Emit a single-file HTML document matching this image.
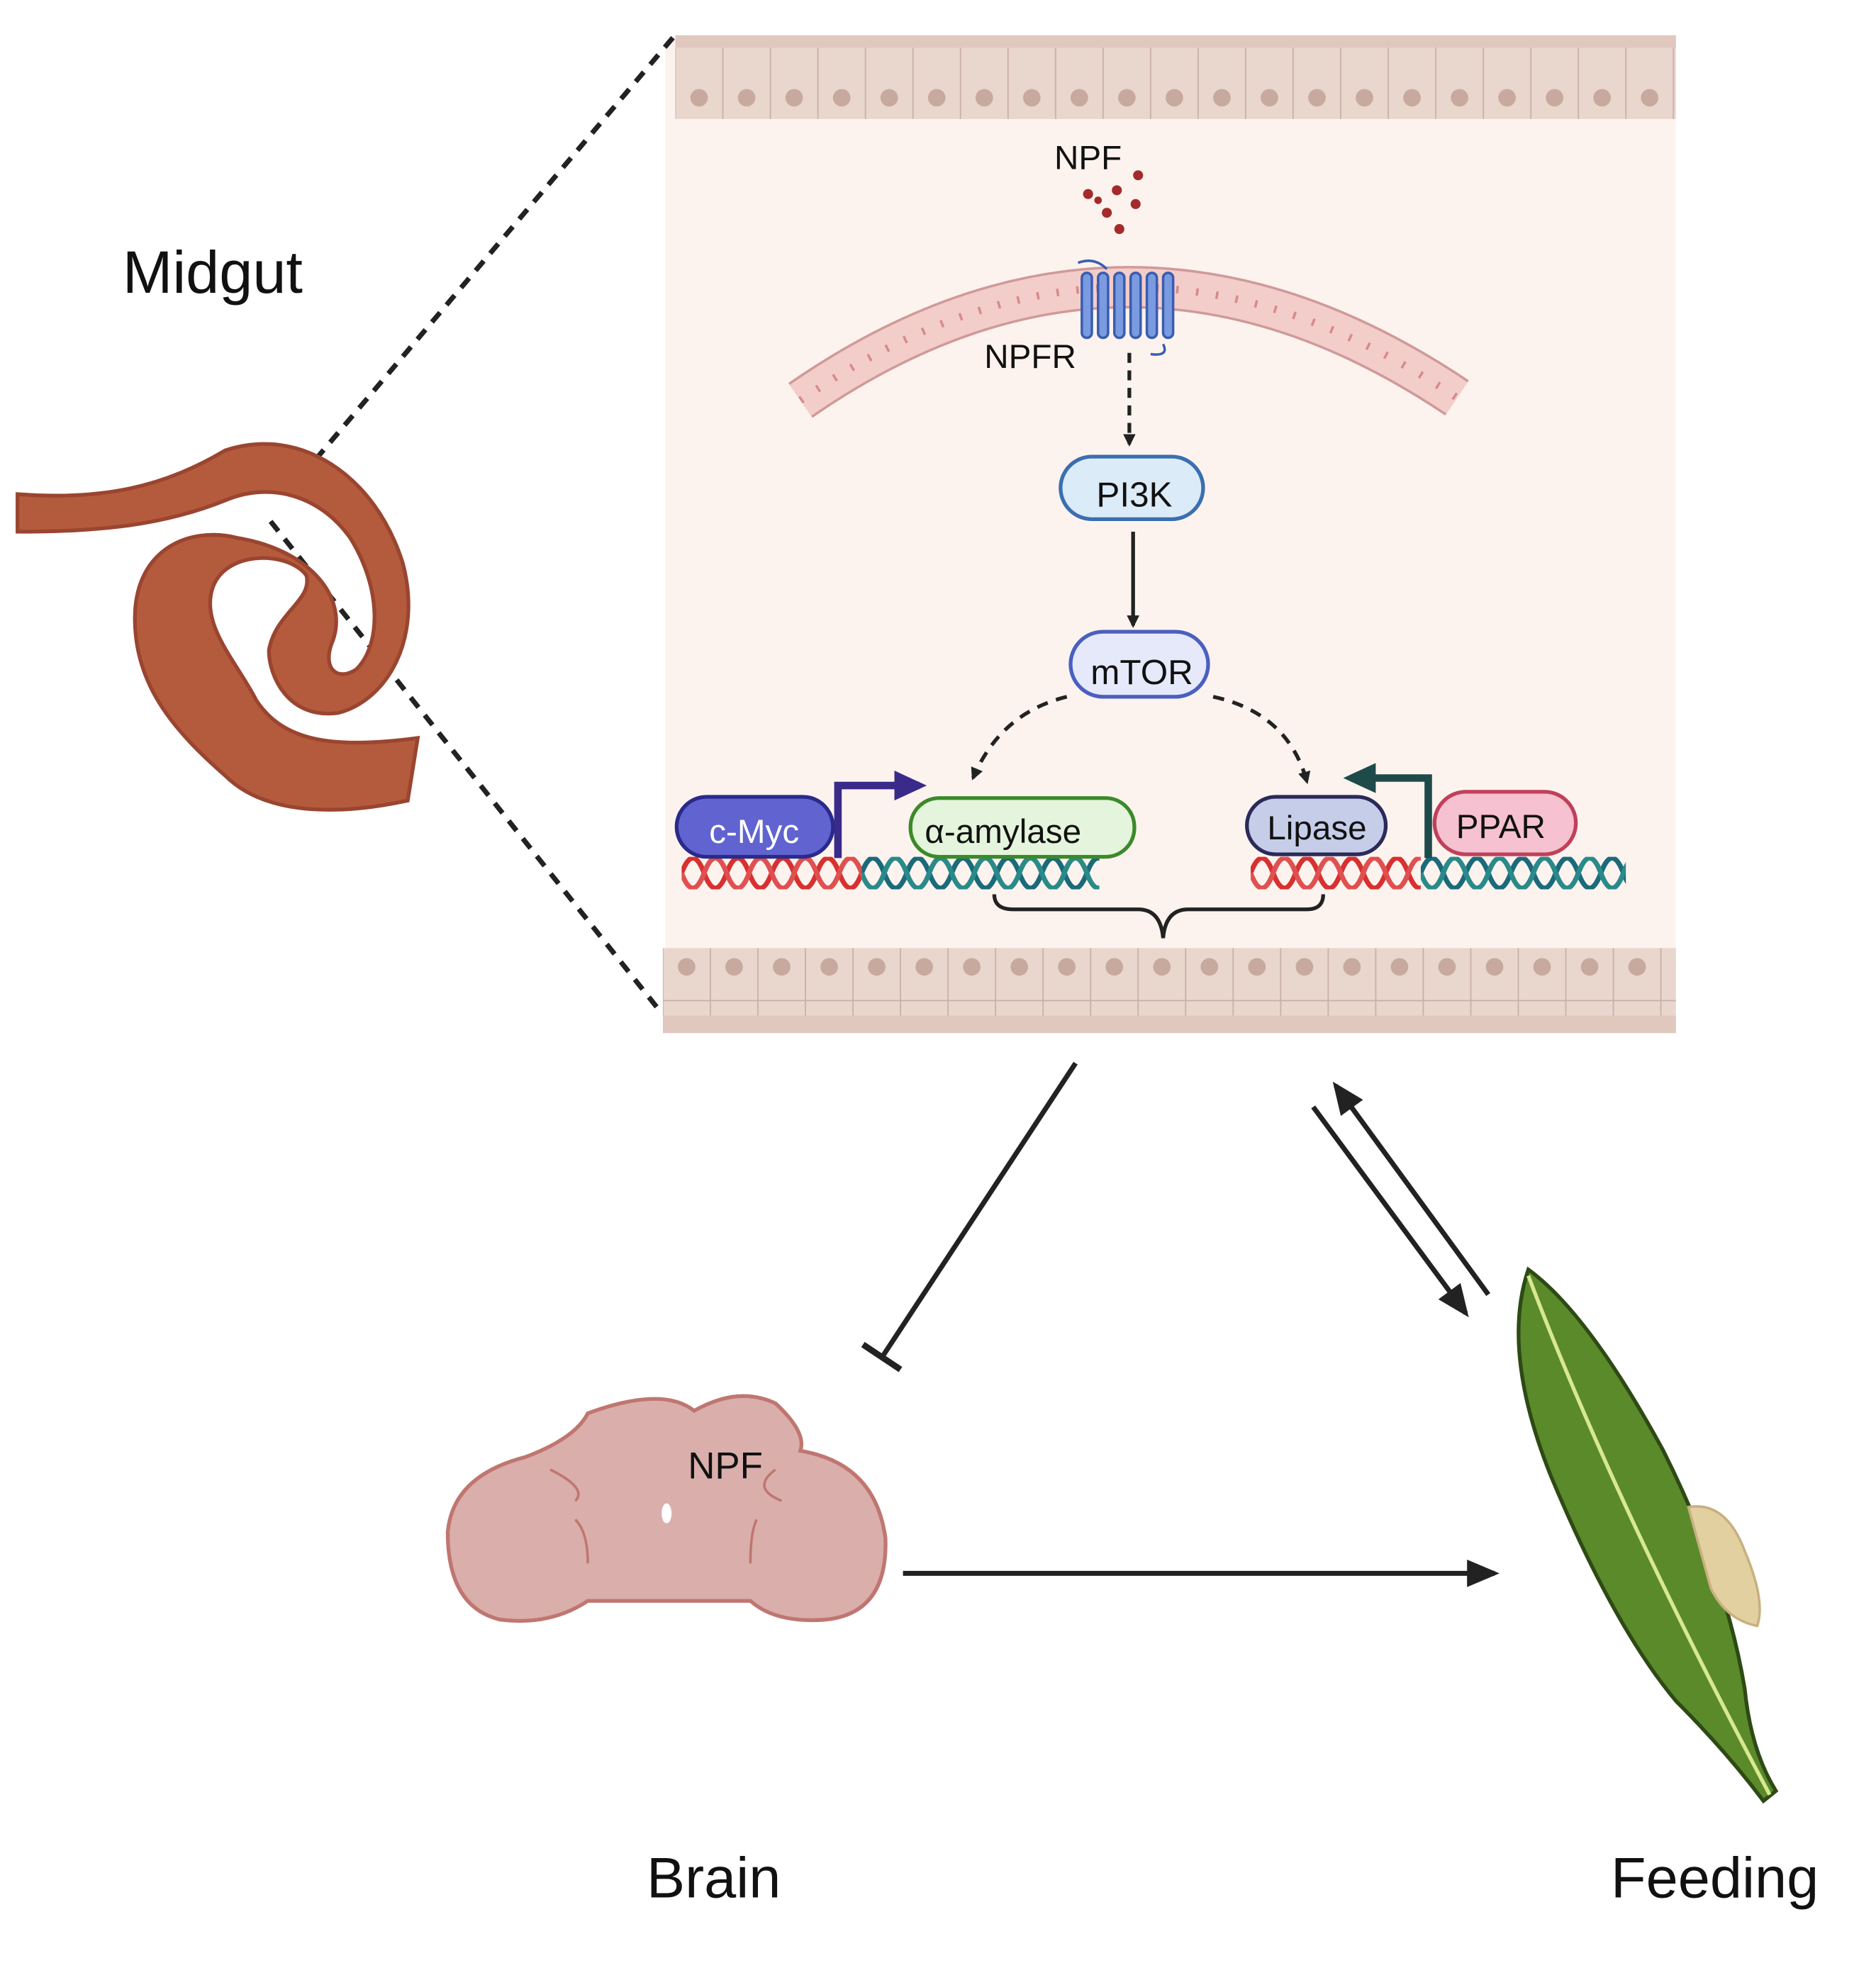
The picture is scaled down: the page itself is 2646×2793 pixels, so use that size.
<!DOCTYPE html>
<html><head><meta charset="utf-8"><style>html,body{margin:0;padding:0;background:#fff}svg{display:block}</style></head>
<body>
<svg width="2646" height="2793" viewBox="0 0 1500 1583" xmlns="http://www.w3.org/2000/svg" font-family="Liberation Sans, sans-serif">
<defs>
<marker id="ah" markerWidth="10" markerHeight="10" refX="8" refY="5" orient="auto" markerUnits="userSpaceOnUse"><path d="M0,0 L10,5 L0,10 z" fill="#222"/></marker>
<marker id="ahb" markerWidth="26" markerHeight="22" refX="22" refY="11" orient="auto" markerUnits="userSpaceOnUse"><path d="M0,0 L26,11 L0,22 z" fill="#222"/></marker>
<marker id="ahp" markerWidth="26" markerHeight="24" refX="20" refY="12" orient="auto" markerUnits="userSpaceOnUse"><path d="M0,0 L26,12 L0,24 z" fill="#3a2a8a"/></marker>
<marker id="aht" markerWidth="26" markerHeight="24" refX="20" refY="12" orient="auto" markerUnits="userSpaceOnUse"><path d="M0,0 L26,12 L0,24 z" fill="#1e4a4a"/></marker>
<pattern id="cells" x="540" y="0" width="38" height="100" patternUnits="userSpaceOnUse"><rect x="0" y="0" width="38" height="100" fill="#e9d6cd" stroke="#c9b0a6" stroke-width="1"/><circle cx="19" cy="78" r="7" fill="#c7a99d"/></pattern>
<pattern id="cells2" x="530" y="0" width="38" height="100" patternUnits="userSpaceOnUse"><rect x="0" y="0" width="38" height="100" fill="#e9d6cd" stroke="#c9b0a6" stroke-width="1"/><circle cx="19" cy="73" r="7" fill="#c7a99d"/></pattern>
<path id="wave" d="M0,0 q9,-24 18,0 q9,24 18,0 q9,-24 18,0 q9,24 18,0 q9,-24 18,0 q9,24 18,0 q9,-24 18,0 q9,24 18,0 q9,-24 18,0 q9,24 18,0 q9,-24 18,0 q9,24 18,0"/>
</defs>
<rect x="532" y="30" width="808" height="795" fill="#fdf3ee"/>
<rect x="540" y="30" width="800" height="65" fill="url(#cells)"/>
<rect x="540" y="28" width="800" height="10" fill="#e0c8bf"/>
<rect x="530" y="758" width="810" height="55" fill="url(#cells2)"/>
<rect x="530" y="812" width="810" height="14" fill="#e0c8bf"/>
<line x1="538" y1="30" x2="250" y2="370" stroke="#222" stroke-width="4" stroke-dasharray="10,8"/>
<line x1="525" y1="805" x2="215" y2="415" stroke="#222" stroke-width="4" stroke-dasharray="10,8"/>
<path d="M14,395 C80,400 130,390 180,360 C240,340 300,380 322,450 C338,510 310,560 270,570 C230,575 215,540 215,520 C220,490 250,480 245,460 C230,440 180,440 170,470 C160,500 190,530 205,560 C225,590 260,600 334,590 L326,640 C280,650 215,655 180,620 C140,585 110,550 108,500 C105,440 150,420 190,430 C250,440 280,480 265,515 C258,535 270,545 285,535 C305,515 305,470 280,430 C255,395 215,385 180,400 C130,420 80,425 14,425 Z" fill="#b55b3d" stroke="#9a4530" stroke-width="3"/>
<text x="98" y="234" font-size="48" fill="#111">Midgut</text>
<text x="843" y="135" font-size="27" fill="#111">NPF</text>
<g fill="#a52a2a"><circle cx="870" cy="155" r="4"/><circle cx="893" cy="152" r="4"/><circle cx="910" cy="140" r="4"/><circle cx="885" cy="170" r="4"/><circle cx="908" cy="163" r="4"/><circle cx="895" cy="183" r="4"/><circle cx="878" cy="160" r="3"/></g>
<path d="M640,320 Q900,140 1165,318" fill="none" stroke="#cf9a9a" stroke-width="34"/>
<path d="M640,320 Q900,140 1165,318" fill="none" stroke="#f3cdc9" stroke-width="30"/>
<path d="M640,320 Q900,140 1165,318" fill="none" stroke="#d88a8a" stroke-width="6" stroke-dasharray="2,14"/>
<g fill="#7b9be0" stroke="#3a5db0" stroke-width="2"><rect x="865" y="218" width="8" height="52" rx="4"/><rect x="878" y="218" width="8" height="52" rx="4"/><rect x="891" y="218" width="8" height="52" rx="4"/><rect x="904" y="218" width="8" height="52" rx="4"/><rect x="917" y="218" width="8" height="52" rx="4"/><rect x="930" y="218" width="8" height="52" rx="4"/></g>
<path d="M862,210 Q875,205 885,215 M930,275 Q935,285 920,283" stroke="#3a5db0" stroke-width="2" fill="none"/>
<text x="787" y="294" font-size="27" fill="#111">NPFR</text>
<line x1="903" y1="282" x2="903" y2="355" stroke="#222" stroke-width="3" stroke-dasharray="8,6" marker-end="url(#ah)"/>
<rect x="848" y="365" width="114" height="50" rx="25" fill="#dcebf8" stroke="#3a6fb0" stroke-width="3"/>
<text x="907" y="405" font-size="28" text-anchor="middle" fill="#111">PI3K</text>
<line x1="906" y1="425" x2="906" y2="500" stroke="#222" stroke-width="3" marker-end="url(#ah)"/>
<rect x="856" y="505" width="110" height="52" rx="26" fill="#e5e9f9" stroke="#4a5fc0" stroke-width="3"/>
<text x="913" y="547" font-size="28" text-anchor="middle" fill="#111">mTOR</text>
<path d="M853,557 Q800,570 778,622" fill="none" stroke="#222" stroke-width="3" stroke-dasharray="9,7" marker-end="url(#ah)"/>
<path d="M970,557 Q1030,570 1045,625" fill="none" stroke="#222" stroke-width="3" stroke-dasharray="9,7" marker-end="url(#ah)"/>
<svg x="545" y="685" width="144" height="26" viewBox="0 -13 144 26" overflow="hidden"><g fill="none" stroke-width="4"><use href="#wave" stroke="#d83030"/><use href="#wave" stroke="#e05050" transform="scale(1,-1)"/></g></svg>
<svg x="689" y="685" width="190" height="26" viewBox="0 -13 190 26" overflow="hidden"><g fill="none" stroke-width="4"><use href="#wave" stroke="#1a6a7a"/><use href="#wave" stroke="#2a8a8a" transform="scale(1,-1)"/></g></svg>
<svg x="1000" y="685" width="136" height="26" viewBox="0 -13 136 26" overflow="hidden"><g fill="none" stroke-width="4"><use href="#wave" stroke="#d83030"/><use href="#wave" stroke="#e05050" transform="scale(1,-1)"/></g></svg>
<svg x="1136" y="685" width="164" height="26" viewBox="0 -13 164 26" overflow="hidden"><g fill="none" stroke-width="4"><use href="#wave" stroke="#1a6a7a"/><use href="#wave" stroke="#2a8a8a" transform="scale(1,-1)"/></g></svg>
<rect x="541" y="637" width="125" height="48" rx="24" fill="#6063d0" stroke="#2a2a8a" stroke-width="3"/>
<text x="603" y="674" font-size="27" text-anchor="middle" fill="#fff">c-Myc</text>
<path d="M670,686 L670,628 L735,628" fill="none" stroke="#3a2a8a" stroke-width="6" marker-end="url(#ahp)"/>
<rect x="728" y="638" width="179" height="47" rx="23" fill="#e5f4dc" stroke="#3a8a2a" stroke-width="3"/>
<text x="802" y="674" font-size="27" text-anchor="middle" fill="#111">α-amylase</text>
<rect x="997" y="637" width="111" height="46" rx="23" fill="#c5cde8" stroke="#2a2a5a" stroke-width="3"/>
<text x="1053" y="671" font-size="27" text-anchor="middle" fill="#111">Lipase</text>
<rect x="1147" y="633" width="113" height="50" rx="25" fill="#f6c1d0" stroke="#c0405a" stroke-width="3"/>
<text x="1200" y="670" font-size="27" text-anchor="middle" fill="#111">PPAR</text>
<path d="M1142,686 L1142,622 L1080,622" fill="none" stroke="#1e4a4a" stroke-width="6" marker-end="url(#aht)"/>
<path d="M795,715 Q795,727 810,727 L910,727 Q928,727 930,750 Q932,727 950,727 L1045,727 Q1058,727 1058,715" fill="none" stroke="#222" stroke-width="3"/>
<line x1="860" y1="850" x2="706" y2="1084" stroke="#222" stroke-width="4"/>
<line x1="690" y1="1075" x2="720" y2="1095" stroke="#222" stroke-width="5"/>
<line x1="1050" y1="885" x2="1172" y2="1050" stroke="#222" stroke-width="4" marker-end="url(#ahb)"/>
<line x1="1190" y1="1035" x2="1068" y2="868" stroke="#222" stroke-width="4" marker-end="url(#ahb)"/>
<line x1="722" y1="1258" x2="1195" y2="1258" stroke="#222" stroke-width="4" marker-end="url(#ahb)"/>
<path d="M420,1165 Q460,1150 470,1130 Q530,1108 555,1128 Q590,1108 620,1122 Q645,1145 640,1160 Q700,1170 708,1230 Q710,1290 660,1295 Q620,1298 600,1280 L470,1280 Q440,1300 400,1295 Q358,1285 358,1225 Q362,1180 420,1165 Z" fill="#d9aeab" stroke="#c07670" stroke-width="3"/>
<path d="M440,1175 Q470,1190 460,1200 M620,1175 Q600,1190 625,1200 M470,1250 Q470,1225 460,1215 M600,1250 Q600,1225 605,1215" stroke="#c07670" stroke-width="2" fill="none"/>
<ellipse cx="533" cy="1210" rx="4" ry="8" fill="#fff"/>
<text x="550" y="1182" font-size="30" fill="#111">NPF</text>
<path d="M1222,1015 Q1200,1080 1240,1180 Q1290,1300 1340,1360 Q1380,1400 1410,1440 L1420,1432 Q1400,1400 1395,1350 Q1380,1260 1330,1160 Q1270,1050 1222,1015 Z" fill="#5a8a2a" stroke="#2e4a14" stroke-width="3"/>
<path d="M1222,1020 Q1290,1200 1415,1435" stroke="#d8e890" stroke-width="3" fill="none"/>
<path d="M1350,1205 Q1380,1200 1395,1240 Q1412,1280 1405,1300 Q1380,1295 1368,1270 Z" fill="#e2d0a0" stroke="#c8b080" stroke-width="2"/>
<text x="517" y="1517" font-size="46" fill="#111">Brain</text>
<text x="1288" y="1517" font-size="46" fill="#111">Feeding</text>
</svg>
</body></html>
